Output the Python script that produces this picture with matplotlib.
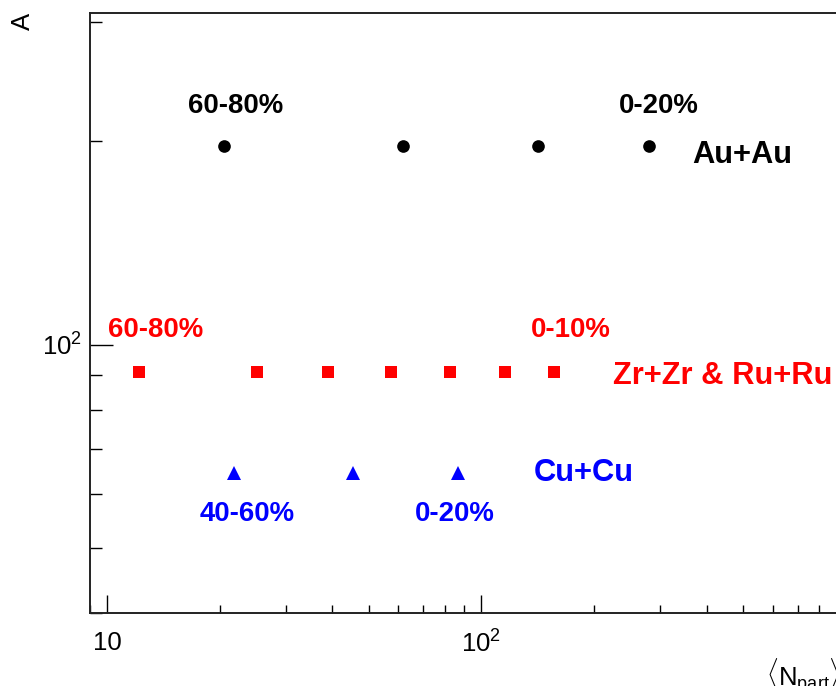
import math
import matplotlib
matplotlib.use("Agg")
import matplotlib.pyplot as plt
from matplotlib.ticker import LogLocator, NullFormatter, FuncFormatter

plt.rcParams['font.family'] = ['Liberation Sans', 'DejaVu Sans']
plt.rcParams['mathtext.fontset'] = 'custom'
plt.rcParams['mathtext.rm'] = 'Liberation Sans'
plt.rcParams['mathtext.it'] = 'Liberation Sans:italic'
plt.rcParams['mathtext.bf'] = 'Liberation Sans:bold'
plt.rcParams['mathtext.default'] = 'rm'

# <Npart> per centrality class and mass number A of each system
au_npart = [20.5, 61.8, 141.3, 280.6]
au_A = [197, 197, 197, 197]
zr_npart = [12.2, 25.2, 38.9, 57.5, 82.4, 115.6, 156.4]
zr_A = [91, 91, 91, 91, 91, 91, 91]
cu_npart = [21.8, 45.4, 86.7]
cu_A = [64.5, 64.5, 64.5]

fig = plt.figure(figsize=(8.36, 6.86), dpi=100)
ax = fig.add_axes([0.1077, 0.106, 0.9157, 0.8755])

ax.plot(au_npart, au_A, 'o', color='black', markersize=9.1, markeredgewidth=0)
ax.plot(zr_npart, zr_A, 's', color='red', markersize=8.6, markeredgewidth=0)
ax.plot(cu_npart, cu_A, '^', color='blue', markersize=9.6, markeredgewidth=0)

ax.set_xscale('log')
ax.set_yscale('log')
ax.set_xlim(9, 1000)
ax.set_ylim(40, 310)


def fmt(v, pos):
    if abs(v - 10) < 1e-6:
        return '10'
    return r'$10^{%d}$' % int(round(math.log10(v)))


for axis in (ax.xaxis, ax.yaxis):
    axis.set_major_locator(LogLocator(base=10))
    axis.set_minor_locator(LogLocator(base=10, subs=range(2, 10)))
    axis.set_major_formatter(FuncFormatter(fmt))
    axis.set_minor_formatter(NullFormatter())

ax.tick_params(axis='both', which='both', direction='in', width=1.0,
               labelsize=18.5, top=False, right=False)
ax.tick_params(axis='x', which='major', length=12.7, pad=12.5)
ax.tick_params(axis='x', which='minor', length=6)
ax.tick_params(axis='y', which='major', length=16.3, pad=5.5)
ax.tick_params(axis='y', which='minor', length=8.4)
for s in ax.spines.values():
    s.set_linewidth(1.4)
    s.set_color('#222222')

ax.set_xlabel(r'$\langle N_{part}\rangle$', fontsize=18.5, loc='right')
ax.xaxis.set_label_coords(0.98, -0.071)
ax.set_ylabel('A', fontsize=18.5, loc='top')
ax.yaxis.set_label_coords(-0.072, 1.0)

fs = 19.9   # centrality labels
fs2 = 22.2  # collision system labels
ax.text(22.0, 220, '60-80%', color='black', fontsize=fs, fontweight='bold', ha='center', va='baseline')
ax.text(298, 220, '0-20%', color='black', fontsize=fs, fontweight='bold', ha='center', va='baseline')
ax.text(365, 185.7, 'Au+Au', color='black', fontsize=fs2, fontweight='bold', ha='left', va='baseline')

ax.text(13.5, 102.5, '60-80%', color='red', fontsize=fs, fontweight='bold', ha='center', va='baseline')
ax.text(173, 102.5, '0-10%', color='red', fontsize=fs, fontweight='bold', ha='center', va='baseline')
ax.text(225, 87.4, 'Zr+Zr & Ru+Ru', color='red', fontsize=fs2, fontweight='bold', ha='left', va='baseline')

ax.text(138.4, 62.9, 'Cu+Cu', color='blue', fontsize=fs2, fontweight='bold', ha='left', va='baseline')
ax.text(23.65, 54.8, '40-60%', color='blue', fontsize=fs, fontweight='bold', ha='center', va='baseline')
ax.text(85, 54.8, '0-20%', color='blue', fontsize=fs, fontweight='bold', ha='center', va='baseline')

fig.savefig('out.png', dpi=100)
